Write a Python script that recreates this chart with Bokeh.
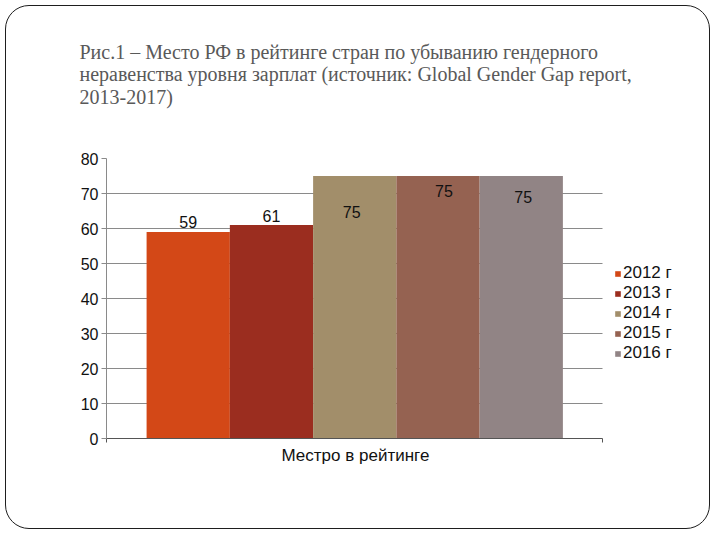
from bokeh.plotting import figure
from bokeh.models import (Range1d, FixedTicker, Legend, LegendItem, Title)
from bokeh.core.properties import value
from bokeh.embed import file_html
from bokeh.resources import INLINE

# ---- data ----
years = ["2012 г", "2013 г", "2014 г", "2015 г", "2016 г"]
values = [59, 61, 75, 75, 75]
category_label = "Местро в рейтинге"
y_ticks = [0, 10, 20, 30, 40, 50, 60, 70, 80]
title_lines = [
    "Рис.1 – Место РФ в рейтинге стран по убыванию гендерного",
    "неравенства  уровня зарплат (источник: Global Gender Gap report,",
    "2013-2017)",
]

# ---- styles ----
colors = ["#D34817", "#9B2D1F", "#A28E6A", "#956251", "#918485"]
label_dx = [0, 0, -3, 6, 2]
label_dy = [-10, -9, 36, 15, 21]   # screen px, positive = down from bar top
bar_w = 0.1677
grid_col = "#8a8a8a"

W, H = 705, 524
# the frame also hosts the legend area on its right; axis/grid are bounded to [0, 1]
p = figure(width=W, height=H, output_backend="svg", toolbar_location=None,
           x_range=Range1d(0, 1.2085), y_range=Range1d(0, 80),
           min_border_left=100, min_border_right=5,
           min_border_top=152, min_border_bottom=92)
p.outline_line_color = None
p.background_fill_color = "white"
p.border_fill_alpha = 0
p.styles = {"border": "1.5px solid #1e1e1e", "border-radius": "24px",
            "margin": "5px 0 0 5px"}

n = len(values)
xs = [0.5 + (i - (n - 1) / 2) * bar_w for i in range(n)]

renderers = []
for i in range(n):
    r = p.vbar(x=[xs[i]], top=[values[i]], width=bar_w, bottom=0,
               fill_color=colors[i], line_color=None)
    renderers.append(r)
    p.text(x=[xs[i]], y=[values[i]], text=[str(values[i])],
           x_offset=label_dx[i], y_offset=label_dy[i],
           text_align="center", text_baseline="middle",
           text_font_size="16px", text_color="#111111",
           text_font=value("Liberation Sans"))

# axes
p.xaxis.bounds = (0, 1)
p.xaxis.ticker = FixedTicker(ticks=[0, 1])
p.xaxis.major_label_overrides = {0: "", 1: ""}
p.xaxis.major_label_standoff = 0
p.xaxis.major_tick_in = 0
p.xaxis.major_tick_out = 4
p.xaxis.minor_tick_line_color = None
p.xaxis.axis_line_color = "#555555"
p.xaxis.major_tick_line_color = "#555555"

# category caption under the bounded axis, centred on the bar group
p.add_layout(Title(text=category_label, text_font="Liberation Sans",
                   text_font_size="17px", text_font_style="normal",
                   text_color="#111111", align="left", offset=175,
                   standoff=2), "below")

p.yaxis.ticker = FixedTicker(ticks=y_ticks)
p.yaxis.major_label_text_font = "Liberation Sans"
p.yaxis.major_label_text_font_size = "16px"
p.yaxis.major_label_text_color = "#111111"
p.yaxis.major_tick_in = 0
p.yaxis.major_tick_out = 5
p.yaxis.major_label_standoff = 3
p.yaxis.minor_tick_line_color = None
p.yaxis.axis_line_color = grid_col
p.yaxis.major_tick_line_color = grid_col

p.xgrid.grid_line_color = None
p.ygrid.grid_line_color = grid_col
p.ygrid.ticker = FixedTicker(ticks=y_ticks)
p.ygrid.cross_bounds = (0, 1)

# legend
legend = Legend(items=[LegendItem(label=years[i], renderers=[renderers[i]])
                       for i in range(n)],
                location=(508, 75), orientation="vertical",
                glyph_width=7, glyph_height=7, label_standoff=2,
                label_text_font="Liberation Sans", label_text_font_size="17px",
                label_text_color="#111111", label_height=20, spacing=0,
                padding=0, margin=0, border_line_color=None,
                background_fill_alpha=0)
p.add_layout(legend, "center")

# title (two blank trailing lines keep it clear of the plot area)
p.add_layout(Title(text="\n".join(title_lines + [" ", " "]),
                   text_font="Liberation Serif",
                   text_font_size="20px", text_font_style="normal",
                   text_color="#595959", text_line_height=1.02,
                   align="left", offset=-27, standoff=12), "above")

open("out.html", "w").write(file_html(p, INLINE))
